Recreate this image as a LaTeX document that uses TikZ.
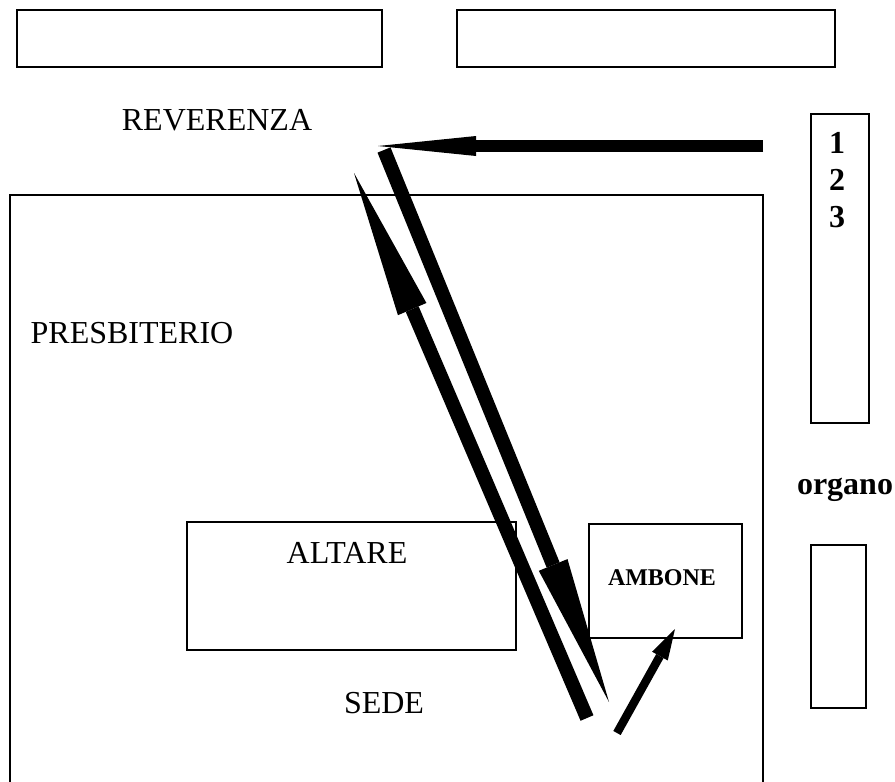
\documentclass[tikz,border=0pt]{standalone}
\usepackage{fontspec}
\setmainfont{Liberation Serif}
\usepackage{tikz}
\usetikzlibrary{arrows.meta, positioning}

\begin{document}
\begin{tikzpicture}[
        x=0.5pt, y=-0.5pt,
        room/.style={draw, line width=1pt},
        label/.style={font=\fontsize{16}{19}\selectfont, inner sep=0pt},
        boldlabel/.style={font=\fontsize{16}{18.5}\selectfont\bfseries, inner sep=0pt, align=center},
        bigarrow/.style={line width=7pt, -{Triangle[length=74pt, width=15.5pt, line width=0pt]}},
        longarrow/.style={line width=6pt, -{Triangle[length=49pt, width=10pt, line width=0pt]}},
        smallarrow/.style={line width=4.2pt, -{Triangle[length=15.5pt, width=9pt, line width=0pt]}}
    ]
    \useasboundingbox (0,0) rectangle (895,782);

    % banchi e pareti
    \draw [room] (17,10) rectangle (382,67);
    \draw [room] (457,10) rectangle (835,67);
    \draw [room] (10,195) rectangle (763,795);
    \draw [room] (811,114) rectangle (869,423);
    \draw [room] (811,545) rectangle (866,708);
    \draw [room] (187,522) rectangle (516,650);
    \draw [room] (589,524) rectangle (742,638);

    % scritte
    \node [label] (reverenza) at (217,120) {REVERENZA};
    \node [label] (presbiterio) at (132,333) {PRESBITERIO};
    \node [label] (altare) at (347,553) {ALTARE};
    \node [label] (sede) at (384,703) {SEDE};
    \node [font=\fontsize{12}{14}\selectfont\bfseries, inner sep=0pt] (ambone) at (662,578) {AMBONE};
    \node [boldlabel] (organo) at (845,490) {organo};
    \node [boldlabel] (numeri) at (837,180) {1\\2\\3};

    % percorso
    \coordinate (startA) at (763,146);
    \coordinate (tipA) at (378,146);
    \coordinate (startB) at (384,150);
    \coordinate (tipB) at (609,702);
    \coordinate (startC) at (587,718);
    \coordinate (tipC) at (354,173);
    \coordinate (startD) at (617,733);
    \coordinate (tipD) at (675,629);

    \draw [longarrow] (startA) -- (tipA);
    \draw [bigarrow] (startB) -- (tipB);
    \draw [bigarrow] (startC) -- (tipC);
    \draw [smallarrow] (startD) -- (tipD);

\end{tikzpicture}
\end{document}
